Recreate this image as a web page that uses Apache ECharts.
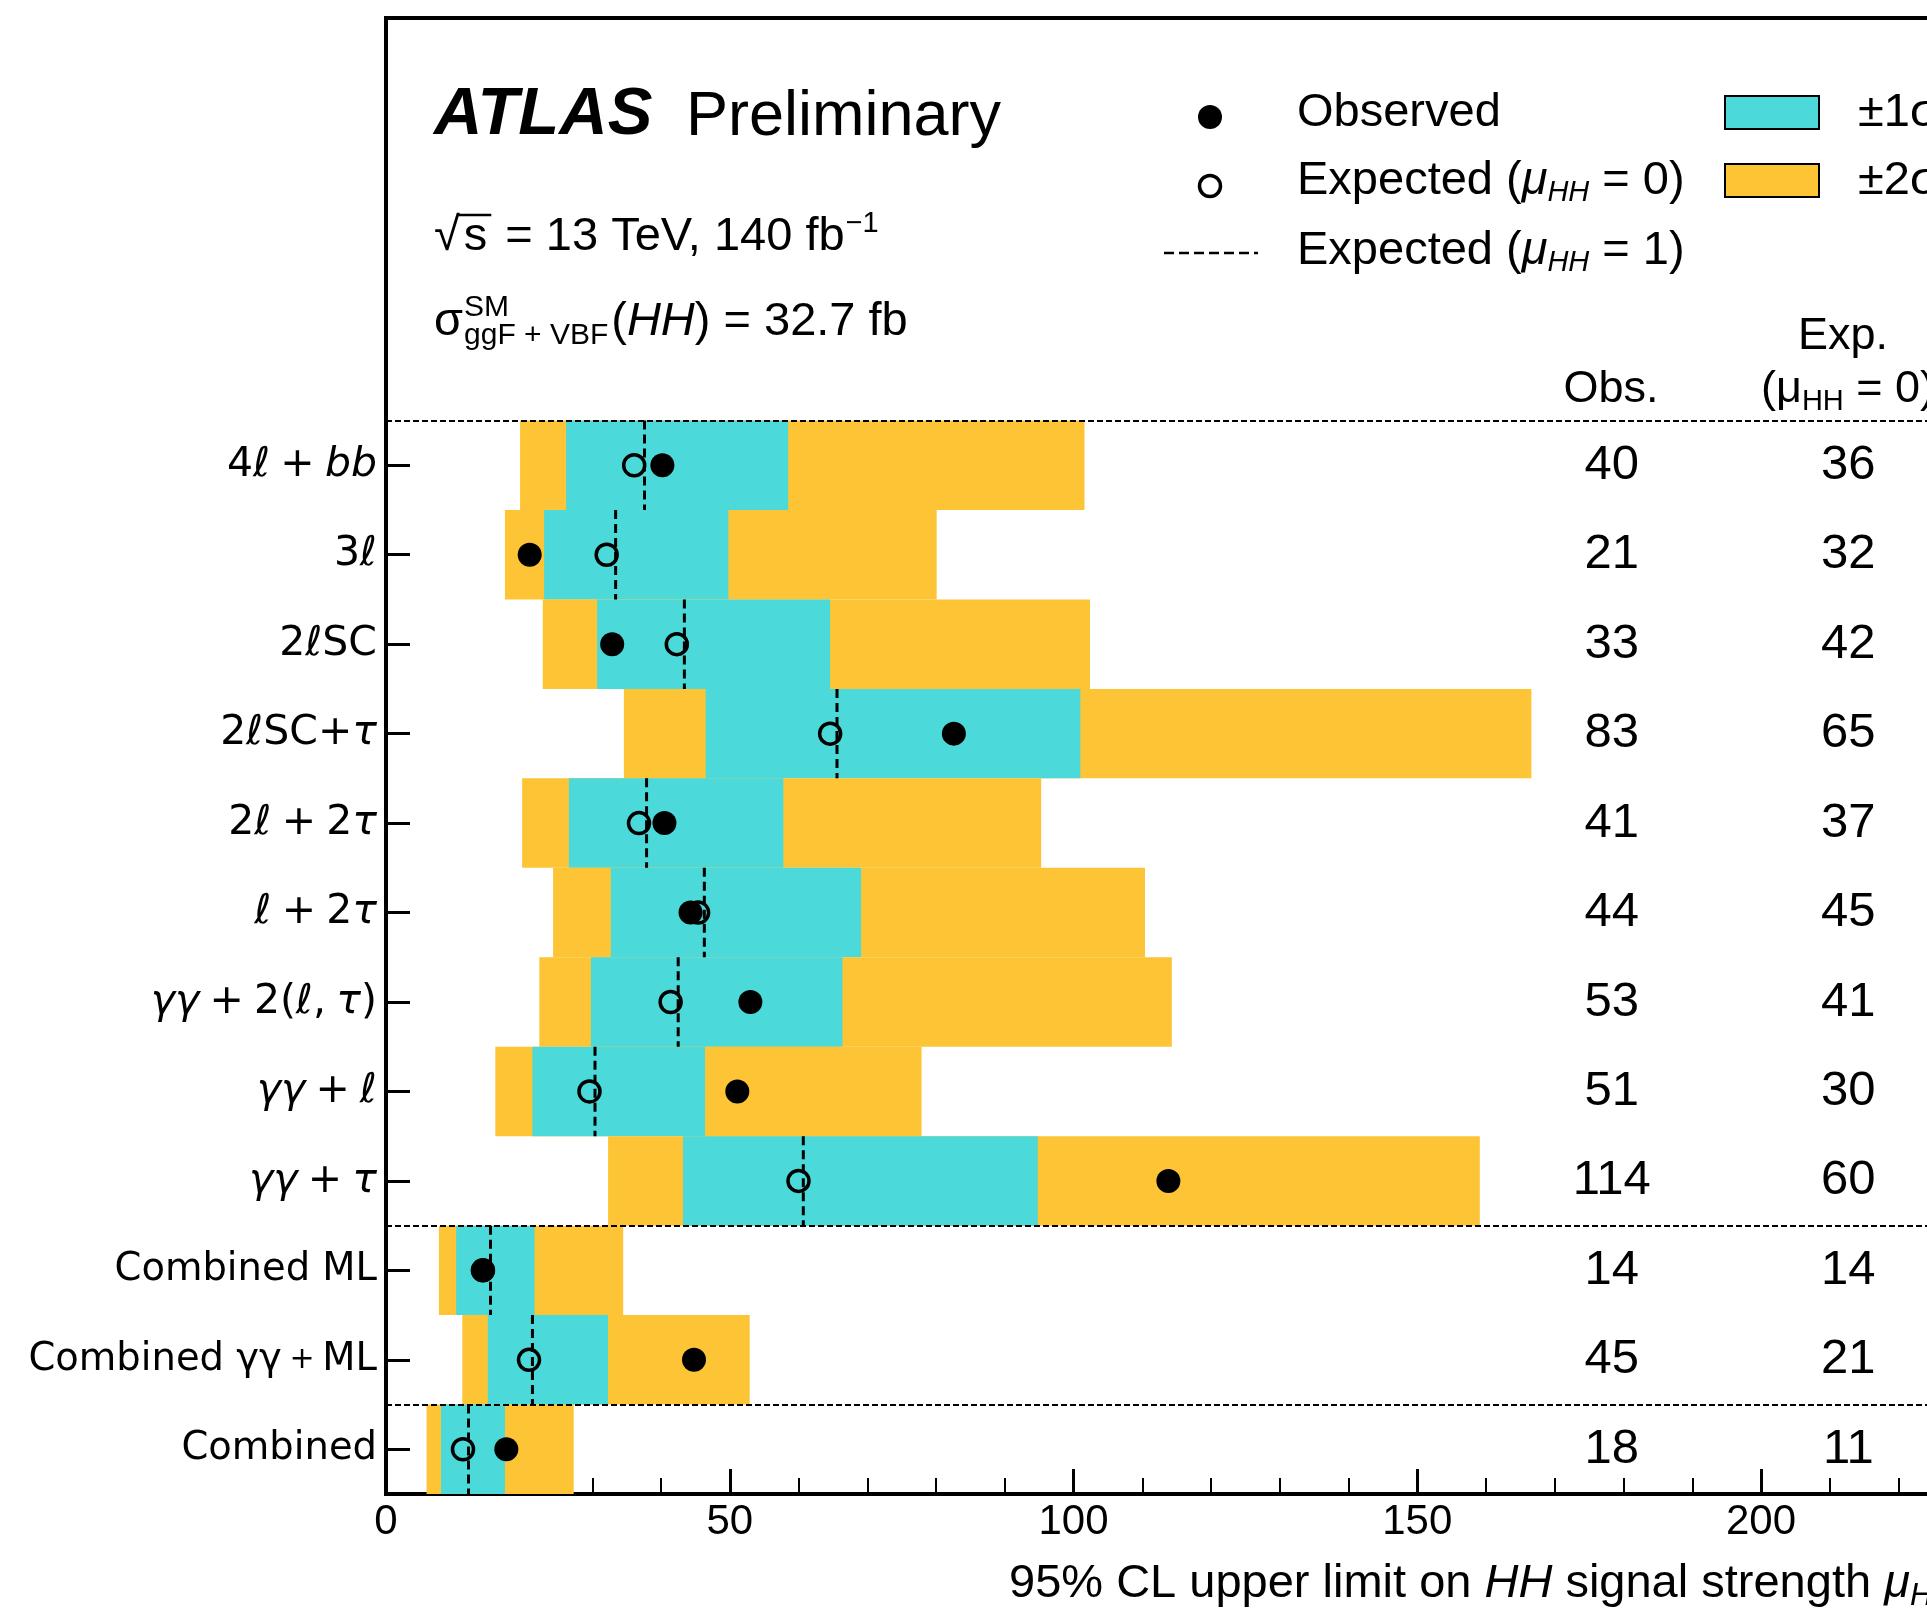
<!DOCTYPE html>
<html><head><meta charset="utf-8">
<script src="https://cdn.jsdelivr.net/npm/echarts@6/dist/echarts.min.js"></script>
<style>html,body{margin:0;padding:0;background:#fff}#c{width:1927px;height:1609px}</style>
</head><body><div id="c"></div><script>
// ---------------- data (top row first) ----------------
const categories = ['4ℓ + bb','3ℓ','2ℓSC','2ℓSC+τ','2ℓ + 2τ','ℓ + 2τ','γγ + 2(ℓ, τ)','γγ + ℓ','γγ + τ','Combined ML','Combined γγ + ML','Combined'];
const categoryRich = [
  '{n|4}{i|ℓ}{n|\u2005+\u2005}{i|bb}', '{n|3}{i|ℓ}', '{n|2}{i|ℓ}{n|SC}', '{n|2}{i|ℓ}{n|SC+}{i|τ}',
  '{n|2}{i|ℓ}{n|\u2005+\u20052}{i|τ}', '{i|ℓ}{n|\u2005+\u20052}{i|τ}',
  '{i|γγ}{n|\u2005+\u20052(}{i|ℓ}{n|,\u2005}{i|τ}{n|)}', '{i|γγ}{n|\u2005+\u2005}{i|ℓ}', '{i|γγ}{n|\u2005+\u2005}{i|τ}',
  '{c|Combined ML}', '{c|Combined γγ\u2009}{p|+}{c|\u2009ML}', '{c|Combined}'];
const band2Low  = [19.5, 17.3, 22.8, 34.6, 19.8, 24.3, 22.3, 15.9, 32.3, 7.7, 11.1, 5.9];
const band1Low  = [26.2, 23.0, 30.7, 46.5, 26.6, 32.7, 29.8, 21.3, 43.2, 10.2, 14.8, 8.0];
const band1High = [58.5, 49.8, 64.6, 101.0, 57.8, 69.1, 66.4, 46.4, 94.8, 21.6, 32.3, 17.3];
const band2High = [101.6, 80.1, 102.4, 166.6, 95.3, 110.4, 114.3, 77.9, 159.1, 34.5, 52.9, 27.3];
const expMu1    = [37.6, 33.4, 43.4, 65.6, 37.9, 46.3, 42.5, 30.4, 60.7, 15.2, 21.3, 12.0];
const observed  = [40.2, 20.9, 32.9, 82.6, 40.5, 44.3, 53.0, 51.1, 113.8, 14.1, 44.8, 17.5];
const expMu0    = [36.1, 32.1, 42.3, 64.6, 36.8, 45.4, 41.4, 29.6, 60.0, 14.1, 20.8, 11.2];
const obsTable  = ['40','21','33','83','41','44','53','51','114','14','45','18'];
const expTable  = ['36','32','42','65','37','45','41','30','60','14','21','11'];
const separators = [12, 3, 1];
const xTicks = [0, 50, 100, 150, 200, 250];

// ---------------- style ----------------
const CYAN = '#4BD9D9', YELLOW = '#FDC536';
const SANS = '"Liberation Sans", Arial, Helvetica, sans-serif';
const DEJAVU = '"DejaVu Sans", sans-serif';
const N = categories.length;
const rowY = i => N - 0.5 - i;
const OBS_COL = 178.3, EXP_COL = 212.7;

const mctx = document.createElement('canvas').getContext('2d');
function fontOf(r){ return (r.it?'italic ':'') + (r.b?'bold ':'') + r.s + 'px ' + (r.fam||SANS); }
function textRuns(x0, base, runs, anchor){
  runs.forEach(r => { mctx.font = fontOf(r); r.w = mctx.measureText(r.t).width; });
  let x = x0;
  if (anchor === 'center'){ let tot = 0; runs.forEach(r => { if(!r.keep) tot += r.w + (r.gap||0); }); x = x0 - tot/2; }
  const els = [], xs = [];
  runs.forEach(r => {
    const yb = base + (r.dy||0);
    xs.push([x, r.w]);
    els.push({type:'text', x: x, y: yb - 0.3465*r.s, z: 100,
      style:{text:r.t, font:fontOf(r), fill:'#000', textAlign:'left', textVerticalAlign:'middle'}});
    if(!r.keep) x += r.w + (r.gap||0);
  });
  return {els, xs};
}

const G = [];
G.push(...textRuns(434, 139, [{t:'ATLAS', s:67, it:1, b:1}]).els);
G.push(...textRuns(686, 139, [{t:'Preliminary', s:63}]).els);
const sq = textRuns(434, 253, [{t:'√', s:47, gap:4},{t:'s', s:47, gap:5},{t:' = 13 TeV, 140 fb', s:47, gap:1},{t:'−1', s:29, dy:-19}]);
G.push(...sq.els);
G.push({type:'line', z:100, shape:{x1: sq.xs[0][0]+sq.xs[0][1]-1, y1:215, x2: sq.xs[1][0]+sq.xs[1][1]+4, y2:215}, style:{stroke:'#000', lineWidth:2.5}});
G.push(...textRuns(434, 338, [{t:'σ', s:47, gap:1},{t:'SM', s:30, dy:-20, keep:1},{t:'ggF + VBF', s:30, dy:8, gap:3},{t:'(', s:47},{t:'HH', s:47, it:1},{t:') = 32.7 fb', s:47}]).els);
G.push({type:'circle', z:100, shape:{cx:1210, cy:117, r:12}, style:{fill:'#000'}});
G.push(...textRuns(1297, 129, [{t:'Observed', s:47}]).els);
G.push({type:'circle', z:100, shape:{cx:1210, cy:186, r:10.5}, style:{fill:'none', stroke:'#000', lineWidth:3.5}});
G.push(...textRuns(1297, 197, [{t:'Expected (', s:47},{t:'μ', s:47, it:1},{t:'HH', s:29, it:1, dy:6},{t:' = 0)', s:47}]).els);
G.push({type:'line', z:100, shape:{x1:1164, y1:253, x2:1258, y2:253}, style:{stroke:'#000', lineWidth:2.5, lineDash:[10,5]}});
G.push(...textRuns(1297, 267, [{t:'Expected (', s:47},{t:'μ', s:47, it:1},{t:'HH', s:29, it:1, dy:6},{t:' = 1)', s:47}]).els);
G.push({type:'rect', z:100, shape:{x:1725, y:96, width:94, height:33}, style:{fill:CYAN, stroke:'#000', lineWidth:2}});
G.push({type:'rect', z:100, shape:{x:1725, y:164, width:94, height:33}, style:{fill:YELLOW, stroke:'#000', lineWidth:2}});
G.push(...textRuns(1858, 129, [{t:'±1σ', s:47}]).els);
G.push(...textRuns(1858, 197, [{t:'±2σ', s:47}]).els);
G.push(...textRuns(1611, 405, [{t:'Obs.', s:45}], 'center').els);
G.push(...textRuns(1843, 352, [{t:'Exp.', s:45}], 'center').els);
G.push(...textRuns(1761, 405, [{t:'(μ', s:45},{t:'HH', s:29, dy:7},{t:' = 0)', s:45}]).els);
G.push(...textRuns(1009, 1600, [{t:'95% CL upper limit on ', s:47},{t:'HH', s:47, it:1},{t:' signal strength ', s:47},{t:'μ', s:47, it:1},{t:'HH', s:31, it:1, dy:7}]).els);

const bandData = categories.map((c,i) => [rowY(i), band2Low[i], band1Low[i], band1High[i], band2High[i]]);
const mu1Data = categories.map((c,i) => [expMu1[i], rowY(i)]);
const obsData = categories.map((c,i) => [observed[i], rowY(i)]);
const exp0Data = categories.map((c,i) => [expMu0[i], rowY(i)]);
const obsTabData = categories.map((c,i) => [OBS_COL, rowY(i), obsTable[i]]);
const expTabData = categories.map((c,i) => [EXP_COL, rowY(i), expTable[i]]);
const tickVals = categories.map((c,i) => rowY(i));

const chart = echarts.init(document.getElementById('c'), null, {renderer:'canvas'});
chart.setOption({
  animation:false,
  backgroundColor:'#fff',
  grid:{left:386, top:18, right:-177.75, bottom:115, containLabel:false, outerBoundsMode:'none',
    show:true, borderColor:'#000', borderWidth:4, backgroundColor:'rgba(0,0,0,0)'},
  xAxis:{type:'value', min:0, max:250, interval:50, position:'bottom',
    axisLine:{show:true, onZero:false, lineStyle:{color:'#000', width:4}},
    axisTick:{show:true, inside:true, length:25, lineStyle:{color:'#000', width:3}},
    minorTick:{show:true, splitNumber:5, length:16, lineStyle:{color:'#000', width:2}},
    axisLabel:{color:'#000', fontSize:42, fontFamily:SANS, margin:7, formatter: v => xTicks.includes(v) ? String(v) : ''},
    splitLine:{show:false}},
  yAxis:{type:'value', min:0, max:16.5, position:'left',
    axisLine:{show:true, onZero:false, lineStyle:{color:'#000', width:4}},
    axisTick:{show:true, inside:true, length:24, customValues:tickVals, lineStyle:{color:'#000', width:3}},
    axisLabel:{show:true, customValues:tickVals, margin:9, color:'#000',
      formatter: v => { const i = Math.round(N - 0.5 - v); return categoryRich[i] || ''; },
      rich:{ n:{fontFamily:DEJAVU, fontSize:41, color:'#000'},
             i:{fontFamily:DEJAVU, fontSize:41, fontStyle:'italic', color:'#000'},
             c:{fontFamily:DEJAVU, fontSize:38.5, color:'#000'},
             p:{fontFamily:DEJAVU, fontSize:30, color:'#000'} }},
    splitLine:{show:false}},
  graphic:{elements:G},
  series:[
    {type:'custom', name:'bands', z:1, data:bandData, encode:{x:[1,2,3,4], y:0}, clip:false,
      renderItem:(params, api) => {
        const y = api.value(0);
        const top = api.coord([0, y+0.5])[1], bot = api.coord([0, y-0.5])[1];
        const X = v => api.coord([v, y])[0];
        return {type:'group', children:[
          {type:'rect', shape:{x:X(api.value(1)), y:top, width:X(api.value(4))-X(api.value(1)), height:bot-top}, style:{fill:YELLOW}},
          {type:'rect', shape:{x:X(api.value(2)), y:top, width:X(api.value(3))-X(api.value(2)), height:bot-top}, style:{fill:CYAN}}
        ]};
      }},
    {type:'custom', name:'exp1', z:3, data:mu1Data, encode:{x:0, y:1},
      renderItem:(params, api) => {
        const x = api.value(0), y = api.value(1);
        const p1 = api.coord([x, y+0.5]), p2 = api.coord([x, y-0.5]);
        return {type:'line', shape:{x1:p1[0], y1:p1[1], x2:p2[0], y2:p2[1]}, style:{stroke:'#000', lineWidth:3, lineDash:[9,5]}};
      }},
    {type:'scatter', name:'exp0', z:4, data:exp0Data, symbol:'circle', symbolSize:21,
      itemStyle:{color:'rgba(0,0,0,0)', borderColor:'#000', borderWidth:3.5, opacity:1}},
    {type:'scatter', name:'obs', z:5, data:obsData, symbol:'circle', symbolSize:24, itemStyle:{color:'#000', opacity:1},
      markLine:{silent:true, symbol:['none','none'], label:{show:false},
        lineStyle:{color:'#000', width:2, type:[6,3], opacity:1}, data:separators.map(v => ({yAxis:v}))}},
    {type:'scatter', name:'obsTab', z:6, data:obsTabData, symbolSize:0, silent:true, itemStyle:{opacity:1},
      label:{show:true, position:'inside', offset:[0,0], formatter:p => p.value[2], color:'#000', opacity:1, fontSize:49, fontFamily:SANS}},
    {type:'scatter', name:'expTab', z:6, data:expTabData, symbolSize:0, silent:true, itemStyle:{opacity:1},
      label:{show:true, position:'inside', offset:[0,0], formatter:p => p.value[2], color:'#000', opacity:1, fontSize:49, fontFamily:SANS}}
  ]
});
</script></body></html>
